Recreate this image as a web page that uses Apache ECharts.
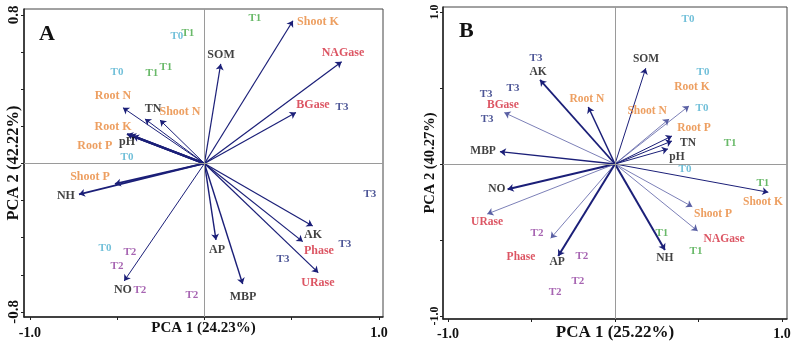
<!DOCTYPE html>
<html>
<head>
<meta charset="utf-8">
<script src="https://cdn.jsdelivr.net/npm/echarts@6/dist/echarts.min.js"></script>
<style>
html, body { margin: 0; padding: 0; background: #fff; }
#main { width: 792px; height: 349px; }
</style>
</head>
<body>
<div id="main"></div>
<script>
// ---- panel A : loadings (arrow tips) ----
var varNamesA = ['Shoot K', 'NAGase', 'BGase', 'SOM', 'Root N', 'TN', 'Shoot N', 'Root K', 'pH', 'Root P',
                 'Shoot P', 'NH', 'NO', 'AP', 'MBP', 'AK', 'Phase', 'URase'];
var loadAx = [0.507, 0.786, 0.524, 0.093, -0.467, -0.341, -0.255, -0.444, -0.410, -0.427,
              -0.513, -0.719, -0.460, 0.066, 0.219, 0.620, 0.563, 0.652];
var loadAy = [0.769, 0.548, 0.274, 0.536, 0.300, 0.240, 0.234, 0.159, 0.148, 0.154,
              -0.110, -0.166, -0.633, -0.412, -0.649, -0.337, -0.421, -0.588];
// where each variable name sits (axis units)
var tagAx = [0.650, 0.794, 0.622, 0.095, -0.524, -0.295, -0.140, -0.524, -0.444, -0.628,
             -0.656, -0.794, -0.467, 0.072, 0.221, 0.622, 0.656, 0.650];
var tagAy = [0.762, 0.595, 0.315, 0.585, 0.364, 0.294, 0.277, 0.197, 0.116, 0.094,
             -0.073, -0.175, -0.681, -0.466, -0.719, -0.385, -0.471, -0.644];
// sample scores
var sampA = ['T1', 'T0', 'T1', 'T0', 'T1', 'T1', 'T0', 'T3', 'T3', 'T3', 'T3', 'T0', 'T2', 'T2', 'T2', 'T2'];
var sampAx = [0.289, -0.158, -0.095, -0.501, -0.301, -0.221, -0.444, 0.788, 0.948, 0.805, 0.450, -0.570, -0.427, -0.501, -0.370, -0.072];
var sampAy = [0.784, 0.687, 0.703, 0.493, 0.488, 0.520, 0.035, 0.304, -0.164, -0.434, -0.515, -0.455, -0.477, -0.552, -0.681, -0.709];

// ---- panel B ----
var varNamesB = ['AK', 'BGase', 'MBP', 'Root N', 'SOM', 'Root K', 'Shoot N', 'Root P', 'TN', 'pH',
                 'Shoot K', 'Shoot P', 'NAGase', 'NH', 'NO', 'URase', 'Phase', 'AP'];
var loadBx = [-0.449, -0.663, -0.689, -0.160, 0.184, 0.443, 0.324, 0.341, 0.341, 0.317,
              0.918, 0.463, 0.495, 0.299, -0.643, -0.765, -0.385, -0.340];
var loadBy = [0.553, 0.338, 0.081, 0.375, 0.630, 0.382, 0.296, 0.184, 0.151, 0.099,
              -0.186, -0.281, -0.441, -0.566, -0.166, -0.329, -0.489, -0.605];
var tagBx = [-0.461, -0.671, -0.790, -0.168, 0.186, 0.461, 0.192, 0.473, 0.437, 0.371,
             0.886, 0.587, 0.653, 0.299, -0.707, -0.766, -0.563, -0.347];
var tagBy = [0.605, 0.388, 0.086, 0.428, 0.691, 0.507, 0.349, 0.237, 0.138, 0.046,
             -0.250, -0.329, -0.493, -0.618, -0.164, -0.382, -0.612, -0.645];
var sampB = ['T3', 'T3', 'T3', 'T3', 'T0', 'T0', 'T0', 'T0', 'T1', 'T1', 'T1', 'T1', 'T2', 'T2', 'T2', 'T2'];
var sampBx = [-0.473, -0.611, -0.772, -0.766, 0.437, 0.527, 0.521, 0.419, 0.689, 0.886, 0.281, 0.485, -0.467, -0.198, -0.222, -0.359];
var sampBy = [0.697, 0.500, 0.461, 0.296, 0.954, 0.605, 0.368, -0.033, 0.138, -0.125, -0.454, -0.572, -0.454, -0.605, -0.770, -0.842];

// styles
var serif = 'Liberation Serif';
var groupColor = { T0: '#4fb0cf', T1: '#43a843', T2: '#913f9f', T3: '#1f2a7c' };
var varColor = {
    'Root N': '#e8873a', 'Root K': '#e8873a', 'Root P': '#e8873a',
    'Shoot N': '#e8873a', 'Shoot K': '#e8873a', 'Shoot P': '#e8873a',
    'NAGase': '#d32a3c', 'BGase': '#d32a3c', 'Phase': '#d32a3c', 'URase': '#d32a3c'
};
var widthA = { 'Root K': 2.2, 'pH': 2.2, 'Root P': 2.2, 'Shoot P': 1.8, 'NH': 1.8, 'Root N': 1, 'TN': 1, 'Shoot N': 1, 'NO': 1, 'AP': 1.4, 'MBP': 1.4 };
var widthB = { 'AK': 1.8, 'BGase': 0.8, 'MBP': 1.3, 'Root N': 1.5, 'SOM': 1, 'Root K': 0.8, 'Shoot N': 0.8, 'Root P': 1, 'TN': 1, 'pH': 1,
               'Shoot K': 1, 'Shoot P': 0.8, 'NAGase': 0.8, 'NH': 2, 'NO': 2, 'URase': 0.8, 'Phase': 0.8, 'AP': 2 };

function arrows(names, xs, ys, widths, def) {
    return names.map(function (n, i) {
        var w = widths[n] || def;
        return { coords: [[0, 0], [xs[i], ys[i]]],
                 lineStyle: { width: w, opacity: 1, color: w < 1 ? '#5a60a4' : '#1b1f78' } };
    });
}
function tags(names, xs, ys, colorOf, size) {
    return names.map(function (n, i) {
        return { name: n, value: [xs[i], ys[i]],
                 label: { color: colorOf(n), fontSize: size } };
    });
}

function xAxisOf(idx, min, max, name, labSize, nameSize, labMargin, nameGap) {
    return {
        gridIndex: idx, type: 'value', min: min, max: max,
        axisLine: { show: true, onZero: false, lineStyle: { color: '#222', width: 1.5 } },
        axisTick: { show: true, customValues: [-1, -0.5, 0, 0.5, 1], length: 3, lineStyle: { color: '#222' } },
        axisLabel: { customValues: [-1, 1], formatter: function (v) { return v.toFixed(1); },
                     fontFamily: serif, fontWeight: 'bold', fontSize: labSize, color: '#111', margin: labMargin },
        splitLine: { show: false },
        name: name, nameLocation: 'middle', nameGap: nameGap, nameMoveOverlap: false,
        nameTextStyle: { fontFamily: serif, fontWeight: 'bold', fontSize: nameSize, color: '#111' }
    };
}
function yAxisOf(idx, min, max, ticks, labs, name, labSize, nameSize, labMargin, nameGap) {
    return {
        gridIndex: idx, type: 'value', min: min, max: max,
        axisLine: { show: true, onZero: false, lineStyle: { color: '#222', width: 1.5 } },
        axisTick: { show: true, customValues: ticks, length: 3, lineStyle: { color: '#222' } },
        axisLabel: { customValues: labs, rotate: 90, formatter: function (v) { return v.toFixed(1); },
                     fontFamily: serif, fontWeight: 'bold', fontSize: labSize, color: '#111', margin: labMargin },
        splitLine: { show: false },
        name: name, nameLocation: 'middle', nameRotate: 90, nameGap: nameGap, nameMoveOverlap: false,
        nameTextStyle: { fontFamily: serif, fontWeight: 'bold', fontSize: nameSize, color: '#111' }
    };
}

var zeroLines = {
    silent: true, symbol: 'none', label: { show: false },
    lineStyle: { color: '#9a9a9a', width: 1, type: 'solid' },
    data: [{ xAxis: 0 }, { yAxis: 0 }]
};

function panelSeries(idx, names, lx, ly, widths, def, tx, ty, sn, sx, sy, varSize) {
    return [
        { type: 'scatter', xAxisIndex: idx, yAxisIndex: idx, data: [], markLine: zeroLines, z: 1 },
        { type: 'lines', coordinateSystem: 'cartesian2d', xAxisIndex: idx, yAxisIndex: idx,
          symbol: ['none', 'arrow'], symbolSize: 6, silent: true, z: 3,
          data: arrows(names, lx, ly, widths, def) },
        { type: 'scatter', xAxisIndex: idx, yAxisIndex: idx, symbolSize: 1, silent: true, z: 4,
          itemStyle: { color: 'rgba(0,0,0,0)' },
          label: { show: true, position: 'inside', formatter: '{b}', fontFamily: serif, fontWeight: 'bold' },
          data: tags(names, tx, ty, function (n) { return varColor[n] || '#111'; }, varSize) },
        { type: 'scatter', xAxisIndex: idx, yAxisIndex: idx, symbolSize: 1, silent: true, z: 4,
          itemStyle: { color: 'rgba(0,0,0,0)' },
          label: { show: true, position: 'inside', formatter: '{b}', fontFamily: serif, fontWeight: 'bold' },
          data: tags(sn, sx, sy, function (n) { return groupColor[n]; }, 11) }
    ];
}

var myChart = echarts.init(document.getElementById('main'));
var option = {
    animation: false,
    backgroundColor: '#fff',
    grid: [
        { left: 24, top: 9, width: 359, height: 308, show: true, borderColor: '#444', borderWidth: 1, outerBoundsMode: 'none' },
        { left: 443, top: 7, width: 344, height: 312, show: true, borderColor: '#444', borderWidth: 1, outerBoundsMode: 'none' }
    ],
    xAxis: [
        xAxisOf(0, -1.034, 1.023, 'PCA 1 (24.23%)', 14, 15, 9, 4),
        xAxisOf(1, -1.03, 1.03, 'PCA 1 (25.22%)', 14, 17, 8, 5)
    ],
    yAxis: [
        yAxisOf(0, -0.827, 0.832, [-0.8, -0.6, -0.4, -0.2, 0, 0.2, 0.4, 0.6, 0.8], [-0.8, 0.8],
                'PCA 2 (42.22%)', 15, 16.5, 2, 2),
        yAxisOf(1, -1.02, 1.033, [-1, -0.5, 0, 0.5, 1], [-1, 1],
                'PCA 2 (40.27%)', 12, 14.5, 2, 5)
    ],
    graphic: [
        { type: 'text', left: 39, top: 23, style: { text: 'A', font: 'bold 22px "Liberation Serif"', fill: '#111' } },
        { type: 'text', left: 459, top: 20, style: { text: 'B', font: 'bold 22px "Liberation Serif"', fill: '#111' } }
    ],
    series: panelSeries(0, varNamesA, loadAx, loadAy, widthA, 1.2, tagAx, tagAy, sampA, sampAx, sampAy, 12)
        .concat(panelSeries(1, varNamesB, loadBx, loadBy, widthB, 1, tagBx, tagBy, sampB, sampBx, sampBy, 11.5))
};
myChart.setOption(option);
</script>
</body>
</html>
